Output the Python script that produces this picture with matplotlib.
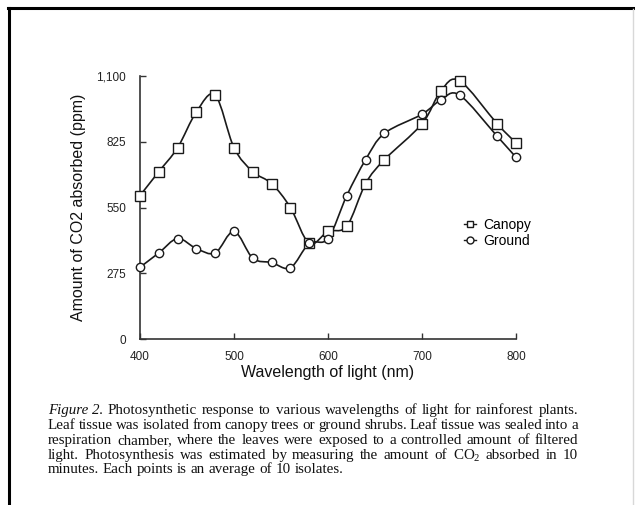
import matplotlib
matplotlib.use("Agg")
import matplotlib.pyplot as plt
import numpy as np
from matplotlib.path import Path
from matplotlib.patches import PathPatch
from matplotlib.lines import Line2D

# data (nm, ppm)
wavelength = [400, 420, 440, 460, 480, 500, 520, 540, 560, 580,
              600, 620, 640, 660, 700, 720, 740, 780, 800]
canopy = [600, 700, 800, 950, 1020, 800, 700, 650, 550, 400,
          450, 472, 650, 750, 900, 1037, 1080, 900, 820]
ground = [300, 360, 420, 378, 360, 450, 338, 320, 298, 400,
          420, 600, 750, 860, 940, 1000, 1020, 848, 760]
series_names = ["Canopy", "Ground"]
y_ticks = [0, 275, 550, 825, 1100]
y_ticklabels = ["0", "275", "550", "825", "1,100"]
x_ticks = [400, 500, 600, 700, 800]

caption_lines = [
    "Photosynthetic response to various wavelengths of light for rainforest plants.",
    "Leaf tissue was isolated from canopy trees or ground shrubs. Leaf tissue was sealed into a",
    "respiration chamber, where the leaves were exposed to a controlled amount of filtered",
    "light. Photosynthesis was estimated by measuring the amount of CO$_2$ absorbed in 10",
    "minutes. Each points is an average of 10 isolates.",
]

plt.rcParams["font.family"] = ["Liberation Sans", "DejaVu Sans"]
plt.rcParams["mathtext.fontset"] = "custom"
plt.rcParams["mathtext.rm"] = "Liberation Serif"

W, H = 635, 505
fig = plt.figure(figsize=(W / 100, H / 100), dpi=100)
ax = fig.add_axes([140 / W, 1 - 339 / H, 376 / W, 263 / H])

LINE = "#1a1a1a"


def smooth_path(x, y):
    # Catmull-Rom through the points, drawn as cubic beziers
    pts = np.column_stack([x, y]).astype(float)
    verts = [pts[0]]
    codes = [Path.MOVETO]
    n = len(pts)
    for i in range(n - 1):
        p0 = pts[max(i - 1, 0)]
        p1 = pts[i]
        p2 = pts[i + 1]
        p3 = pts[min(i + 2, n - 1)]
        c1 = p1 + (p2 - p0) / 6.0
        c2 = p2 - (p3 - p1) / 6.0
        verts += [c1, c2, p2]
        codes += [Path.CURVE4] * 3
    return Path(verts, codes)


for vals in (canopy, ground):
    ax.add_patch(PathPatch(smooth_path(wavelength, vals), fill=False,
                           edgecolor=LINE, lw=1.2, zorder=2))

ax.plot(wavelength, canopy, ls="none", marker="s", ms=7, mfc="white",
        mec=LINE, mew=1.0, zorder=3, clip_on=False)
ax.plot(wavelength, ground, ls="none", marker="o", ms=6, mfc="white",
        mec=LINE, mew=1.0, zorder=3, clip_on=False)

ax.set_xlim(400, 800)
ax.set_ylim(0, 1100)
ax.set_xticks(x_ticks)
ax.set_yticks(y_ticks)
ax.set_yticklabels(y_ticklabels)
for s in ("top", "right"):
    ax.spines[s].set_visible(False)
for s in ("left", "bottom"):
    ax.spines[s].set_color("#333333")
    ax.spines[s].set_linewidth(1.2)
    ax.spines[s].set_zorder(1)
ax.tick_params(direction="in", length=4, width=1.0, color="#333333",
               labelsize=8.5, labelcolor="#222222")
ax.tick_params(axis="x", pad=9)
ax.tick_params(axis="y", pad=10)

ax.set_xlabel("Wavelength of light (nm)", fontsize=11.5, color="#111111")
ax.set_ylabel("Amount of CO2 absorbed (ppm)", fontsize=11.5, color="#111111")
ax.xaxis.set_label_coords(0.5, (339 - 372) / 263)
ax.xaxis.label.set_va("center")
ax.yaxis.set_label_coords((78 - 140) / 376, 0.5)
ax.yaxis.label.set_va("center")

handles = [
    Line2D([], [], color=LINE, lw=1.0, marker="s", ms=5, mfc="white", mec=LINE),
    Line2D([], [], color=LINE, lw=1.0, marker="o", ms=5, mfc="white", mec=LINE),
]
ax.legend(handles, series_names, loc="center left", frameon=False,
          bbox_to_anchor=(457 / W, 1 - 233 / H), bbox_transform=fig.transFigure,
          handlelength=0.9, handletextpad=0.5, labelspacing=0.15,
          borderpad=0, fontsize=10)

# caption, justified line by line
renderer = fig.canvas.get_renderer()
cap_font = dict(family="Liberation Serif", fontsize=10.8, color="#111111")
x_left, x_right = 48, 578
line_base = [414, 429, 444, 459, 473]


def px_width(t):
    return t.get_window_extent(renderer=renderer).width


for k, (line, yy) in enumerate(zip(caption_lines, line_base)):
    words = line.split(" ")
    if k == 0:
        words = ["Figure 2."] + words
    texts = []
    for j, w in enumerate(words):
        style = "italic" if (k == 0 and j == 0) else "normal"
        t = fig.text(0, 1 - yy / H, w, va="baseline", ha="left",
                     fontstyle=style, **cap_font)
        texts.append(t)
    widths = [px_width(t) for t in texts]
    if k < len(caption_lines) - 1:
        gap = (x_right - x_left - sum(widths)) / (len(words) - 1)
    else:
        gap = 3.7
    xx = x_left
    for t, w in zip(texts, widths):
        t.set_x(xx / W)
        xx += w + gap

# page border
fig.add_artist(Line2D([8 / W, 1], [1 - 8 / H, 1 - 8 / H], color="black",
                      lw=2.2, transform=fig.transFigure))
fig.add_artist(Line2D([9 / W, 9 / W], [0, 1 - 8 / H], color="black",
                      lw=2.2, transform=fig.transFigure))
fig.add_artist(Line2D([633 / W, 633 / W], [0, 1 - 9 / H], color="#d8d8d8",
                      lw=1.0, transform=fig.transFigure))

fig.savefig("out.png", dpi=100)
